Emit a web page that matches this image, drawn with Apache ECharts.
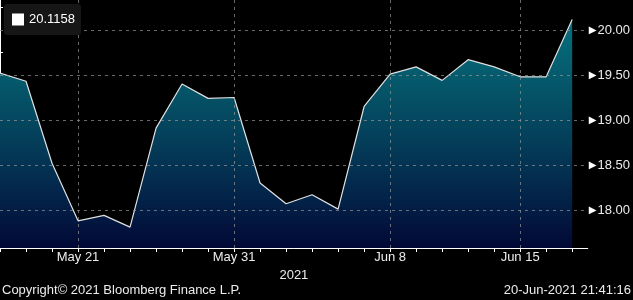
<!DOCTYPE html>
<html>
<head>
<meta charset="utf-8">
<script src="https://cdn.jsdelivr.net/npm/echarts@6/dist/echarts.min.js"></script>
<style>
html,body{margin:0;padding:0;background:#000;}
#chart{width:633px;height:300px;}
</style>
</head>
<body>
<div id="chart"></div>
<script>
// Trading days (category labels)
const dates = ['May 18','May 19','May 20','May 21','May 24','May 25','May 26','May 27','May 28','May 31',
  'Jun 1','Jun 2','Jun 3','Jun 4','Jun 7','Jun 8','Jun 9','Jun 10','Jun 11','Jun 14','Jun 15','Jun 16','Jun 17'];
// Series values
const values = [19.52,19.43,18.52,17.88,17.94,17.81,18.91,19.40,19.24,19.25,
  18.30,18.07,18.17,18.01,19.15,19.51,19.59,19.44,19.67,19.59,19.48,19.48,20.1158];
// Labelled dates on the x axis
const labeledDates = ['May 21','May 31','Jun 8','Jun 15'];
// Y axis tick labels (major) and minor ticks
const yMajorTicks = [18.00,18.50,19.00,19.50,20.00];
const yMinorTicks = [17.75,18.25,18.75,19.25,19.75,20.25];
const yMin = 17.578, yMax = 20.333;
const footerLeft = 'Copyright\u00A9 2021 Bloomberg Finance L.P.';
const footerRight = '20-Jun-2021 21:41:16';

const lastName = values[values.length-1].toFixed(4);
const seriesData = values.map((v,i)=>[i,v]);
const allIdx = dates.map((d,i)=>i);
const labeledIdx = labeledDates.map(d=>dates.indexOf(d));

const chart = echarts.init(document.getElementById('chart'), null, {renderer:'canvas'});
const txt = '#ececec';
const font = "'Liberation Sans', Arial, sans-serif";
const gridLine = {show:true, lineStyle:{color:'rgba(150,150,150,0.7)', type:[3,4], width:1}};

chart.setOption({
  backgroundColor:'#000',
  animation:false,
  textStyle:{fontFamily:font},
  grid:{left:0, right:45, top:0, bottom:52, containLabel:false},
  legend:{
    data:[{name:lastName, icon:'rect'}],
    left:4, top:4, padding:[9,6,9,8],
    backgroundColor:'#161616', borderRadius:3,
    itemWidth:12, itemHeight:12,
    itemStyle:{color:'#ffffff'},
    textStyle:{color:'#ffffff', fontSize:13, fontFamily:font},
    selectedMode:false, z:10
  },
  xAxis:[
    {type:'value', min:0, max:22.6, position:'bottom',
     axisLine:{show:true, lineStyle:{color:'#ffffff', width:1}},
     axisTick:{show:true, customValues:allIdx, length:4, lineStyle:{color:'#ffffff'}},
     axisLabel:{show:false}, splitLine:{show:false}},
    {type:'value', min:0, max:22.6, position:'bottom', z:5,
     axisLine:{show:false},
     axisTick:{show:false, customValues:labeledIdx},
     axisLabel:{show:true, customValues:labeledIdx, margin:3, color:txt, fontSize:13, fontFamily:font,
       formatter:v=>dates[Math.round(v)]},
     splitLine:gridLine,
     name:'2021', nameLocation:'middle', nameGap:19,
     nameTextStyle:{color:txt, fontSize:13, fontFamily:font}}
  ],
  yAxis:[
    {type:'value', min:yMin, max:yMax, position:'right',
     axisLine:{show:true, lineStyle:{color:'#ffffff', width:1}},
     axisTick:{show:true, customValues:yMinorTicks, length:3, lineStyle:{color:'#ffffff'}},
     axisLabel:{show:false}, splitLine:{show:false}},
    {type:'value', min:yMin, max:yMax, position:'right', z:5,
     axisLine:{show:false},
     axisTick:{show:false, customValues:yMajorTicks},
     axisLabel:{show:true, customValues:yMajorTicks, margin:1,
       formatter:v=>'{t|\u25B6}{v|'+v.toFixed(2)+'}',
       rich:{
         t:{fontFamily:'DejaVu Sans', fontSize:10, color:'#ffffff', padding:[0,1,0,0]},
         v:{fontFamily:font, fontSize:13, color:txt}
       }},
     splitLine:gridLine}
  ],
  series:[{
    name:lastName, type:'line', xAxisIndex:0, yAxisIndex:0,
    data:seriesData, symbol:'none',
    itemStyle:{color:'#ffffff'},
    lineStyle:{color:'#e0e0e0', width:1.2},
    areaStyle:{
      color:new echarts.graphic.LinearGradient(0,0,0,1,[
        {offset:0, color:'#05707f'},
        {offset:0.25, color:'#055a6c'},
        {offset:0.55, color:'#043c58'},
        {offset:0.8, color:'#032147'},
        {offset:1, color:'#020836'}
      ]),
      opacity:1
    },
    z:2
  }],
  graphic:[
    {type:'text', left:2, top:284, style:{text:footerLeft, fill:txt, font:"13px 'Liberation Sans', Arial, sans-serif"}},
    {type:'text', right:2, top:284, style:{text:footerRight, fill:txt, font:"13px 'Liberation Sans', Arial, sans-serif"}}
  ]
});
</script>
</body>
</html>
